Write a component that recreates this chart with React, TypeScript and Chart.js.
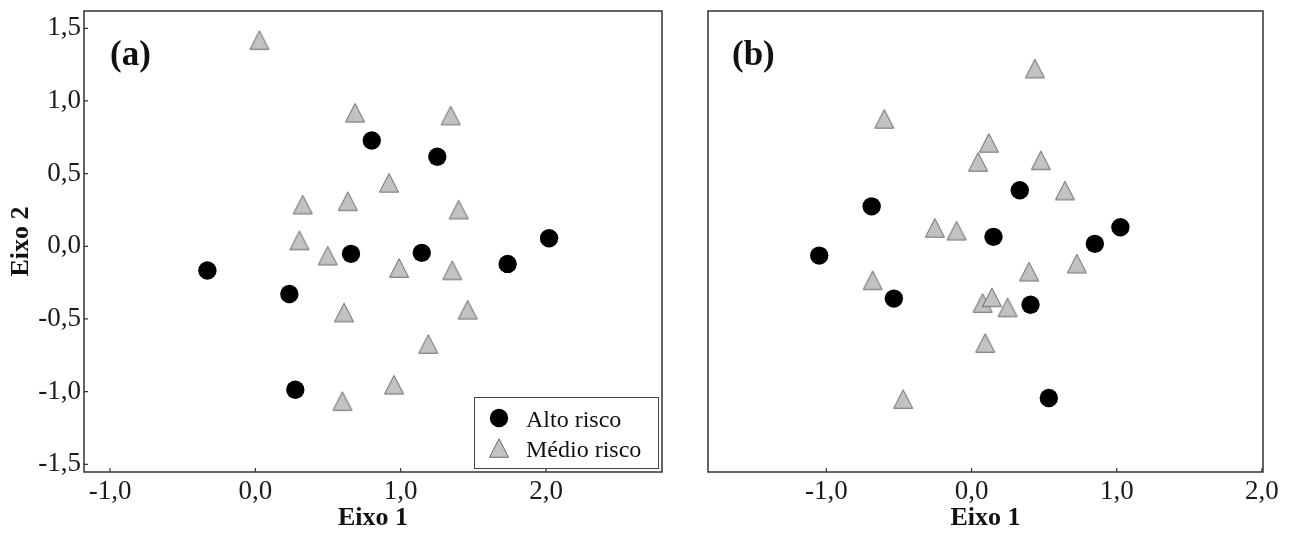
import React, { useEffect, useRef } from 'react';
import { Chart, registerables } from 'chart.js';

Chart.register(...registerables);

const FONT = "'Liberation Serif', 'Times New Roman', serif";

// ---------- data ----------
const seriesLabels = ['Alto risco', 'Médio risco'];
const panelLabels = ['(a)', '(b)'];
const xTitle = 'Eixo 1';
const yTitle = 'Eixo 2';

const xTicks = [-1, 0, 1, 2];
const yTicks = [-1.5, -1, -0.5, 0, 0.5, 1, 1.5];

const xRangeA = [-1.179, 2.798];
const xRangeB = [-1.815, 2.007];
const yRange = [-1.553, 1.619];

// Panel (a)
const altoA_x = [-0.330, 0.234, 0.275, 0.801, 1.252, 0.658, 1.145, 1.736, 2.021];
const altoA_y = [-0.167, -0.328, -0.987, 0.728, 0.616, -0.052, -0.045, -0.121, 0.055];
const medioA_x = [0.028, 0.686, 1.344, 0.326, 0.636, 0.920, 1.399, 0.303, 0.498, 0.989, 1.355, 0.610, 1.461, 1.190, 0.954, 0.599];
const medioA_y = [1.419, 0.919, 0.900, 0.287, 0.310, 0.437, 0.253, 0.041, -0.064, -0.149, -0.165, -0.455, -0.436, -0.672, -0.952, -1.065];

// Panel (b)
const altoB_x = [-1.049, -0.688, -0.535, 0.151, 0.332, 0.406, 0.532, 0.849, 1.025];
const altoB_y = [-0.064, 0.275, -0.360, 0.065, 0.386, -0.402, -1.044, 0.017, 0.131];
const medioB_x = [-0.601, 0.119, 0.045, -0.253, -0.103, -0.681, 0.076, 0.140, 0.248, 0.094, -0.471, 0.436, 0.477, 0.643, 0.725, 0.396];
const medioB_y = [0.877, 0.712, 0.581, 0.127, 0.108, -0.234, -0.390, -0.351, -0.420, -0.665, -1.051, 1.223, 0.592, 0.384, -0.119, -0.174];

// ---------- helpers ----------
const fmt = (v: number) => Number(v).toFixed(1).replace('.', ',');
const pts = (xs: number[], ys: number[]) => xs.map((x, i) => ({ x, y: ys[i] }));

function makeTriangle(): HTMLCanvasElement {
  const c = document.createElement('canvas');
  c.width = 24;
  c.height = 24;
  const g = c.getContext('2d')!;
  g.beginPath();
  g.moveTo(12, 2.75);
  g.lineTo(21.5, 21.25);
  g.lineTo(2.5, 21.25);
  g.closePath();
  g.fillStyle = '#c2c2c2';
  g.fill();
  g.lineWidth = 1;
  g.strokeStyle = '#686868';
  g.stroke();
  return c;
}

const framePlugin = {
  id: 'frame',
  afterDraw(chart: any, _args: any, opts: any) {
    const { ctx, chartArea: a, scales } = chart;
    ctx.save();
    ctx.strokeStyle = '#333';
    ctx.lineWidth = 1.5;
    ctx.strokeRect(a.left, a.top, a.right - a.left, a.bottom - a.top);
    ctx.lineWidth = 1.2;
    ctx.beginPath();
    for (const v of xTicks) {
      const px = scales.x.getPixelForValue(v);
      ctx.moveTo(px, a.bottom);
      ctx.lineTo(px, a.bottom - 4);
    }
    if (opts.yTicks) {
      for (const v of yTicks) {
        const py = scales.y.getPixelForValue(v);
        ctx.moveTo(a.left, py);
        ctx.lineTo(a.left + 4, py);
      }
    }
    ctx.stroke();

    ctx.fillStyle = '#111';
    ctx.textAlign = 'left';
    ctx.textBaseline = 'alphabetic';
    ctx.font = `bold 35px ${FONT}`;
    ctx.fillText(opts.label, a.left + opts.labelDx, a.top + 54);

    if (opts.legend) {
      const L = a.left + 390;
      const R = a.right - 4;
      const T = a.bottom - 75;
      const B = a.bottom - 4;
      ctx.fillStyle = '#fff';
      ctx.fillRect(L, T, R - L, B - T);
      ctx.lineWidth = 1;
      ctx.strokeStyle = '#444';
      ctx.strokeRect(L + 0.5, T + 0.5, R - L, B - T);
      ctx.fillStyle = '#000';
      ctx.beginPath();
      ctx.arc(L + 25, T + 21, 9.2, 0, Math.PI * 2);
      ctx.fill();
      ctx.drawImage(opts.tri, L + 25 - 12, T + 51 - 12);
      ctx.fillStyle = '#111';
      ctx.font = `24px ${FONT}`;
      ctx.fillText(seriesLabels[0], L + 52, T + 29.5);
      ctx.fillText(seriesLabels[1], L + 52, T + 59.5);
    }
    ctx.restore();
  },
};

function xScale(range: number[]) {
  return {
    type: 'linear',
    min: range[0],
    max: range[1],
    afterBuildTicks: (s: any) => {
      s.ticks = xTicks.map((v) => ({ value: v }));
    },
    afterFit: (s: any) => {
      s.height = 62;
      s.paddingLeft = 0;
      s.paddingRight = 0;
    },
    ticks: {
      font: { family: FONT, size: 27 },
      color: '#1a1a1a',
      padding: 4,
      maxRotation: 0,
      autoSkip: false,
      callback: (v: any) => fmt(v),
    },
    grid: { display: false, drawTicks: false },
    border: { display: false },
    title: {
      display: true,
      text: xTitle,
      font: { family: FONT, size: 26, weight: 'bold' },
      color: '#111',
      padding: { top: 0, bottom: 0 },
    },
  };
}

function buildConfig(
  altoX: number[],
  altoY: number[],
  medioX: number[],
  medioY: number[],
  xRange: number[],
  withY: boolean,
  label: string,
  labelDx: number,
  legend: boolean,
  tri: HTMLCanvasElement,
  padding: any
) {
  const yScale = withY
    ? {
        type: 'linear',
        min: yRange[0],
        max: yRange[1],
        afterBuildTicks: (s: any) => {
          s.ticks = yTicks.map((v) => ({ value: v }));
        },
        afterFit: (s: any) => {
          s.width = 84;
          s.paddingTop = 0;
          s.paddingBottom = 0;
        },
        ticks: {
          font: { family: FONT, size: 27 },
          color: '#1a1a1a',
          padding: 3,
          autoSkip: false,
          callback: (v: any) => fmt(v),
        },
        grid: { display: false, drawTicks: false },
        border: { display: false },
        title: {
          display: true,
          text: yTitle,
          font: { family: FONT, size: 26, weight: 'bold' },
          color: '#111',
          padding: { top: 6, bottom: 0 },
        },
      }
    : { type: 'linear', display: false, min: yRange[0], max: yRange[1] };

  return {
    type: 'scatter',
    data: {
      datasets: [
        {
          label: seriesLabels[0],
          data: pts(altoX, altoY),
          pointStyle: 'circle',
          pointRadius: 9.2,
          pointBackgroundColor: '#000',
          pointBorderWidth: 0,
          showLine: false,
        },
        {
          label: seriesLabels[1],
          data: pts(medioX, medioY),
          pointStyle: tri,
          pointRadius: 10,
          pointBorderWidth: 0,
          showLine: false,
        },
      ],
    },
    options: {
      responsive: false,
      animation: false,
      devicePixelRatio: 1,
      events: [],
      layout: { padding },
      scales: { x: xScale(xRange), y: yScale },
      plugins: {
        legend: { display: false },
        tooltip: { enabled: false },
        frame: { label, labelDx, legend, tri, yTicks: withY },
      },
    },
    plugins: [framePlugin],
  };
}

export default function App() {
  const refA = useRef<HTMLCanvasElement>(null);
  const refB = useRef<HTMLCanvasElement>(null);

  useEffect(() => {
    const tri = makeTriangle();
    const chartA = new Chart(
      refA.current!,
      buildConfig(altoA_x, altoA_y, medioA_x, medioA_y, xRangeA, true, panelLabels[0], 26, true, tri, {
        top: 11,
        right: 28,
        left: 0,
        bottom: 0,
      }) as any
    );
    const chartB = new Chart(
      refB.current!,
      buildConfig(altoB_x, altoB_y, medioB_x, medioB_y, xRangeB, false, panelLabels[1], 24, false, tri, {
        top: 11,
        right: 26,
        left: 18,
        bottom: 0,
      }) as any
    );
    return () => {
      chartA.destroy();
      chartB.destroy();
    };
  }, []);

  return (
    <div style={{ position: 'absolute', left: 0, top: 0, width: 1289, height: 534, background: '#fff' }}>
      <canvas ref={refA} width={690} height={534} style={{ position: 'absolute', left: 0, top: 0 }} />
      <canvas ref={refB} width={599} height={534} style={{ position: 'absolute', left: 690, top: 0 }} />
    </div>
  );
}
